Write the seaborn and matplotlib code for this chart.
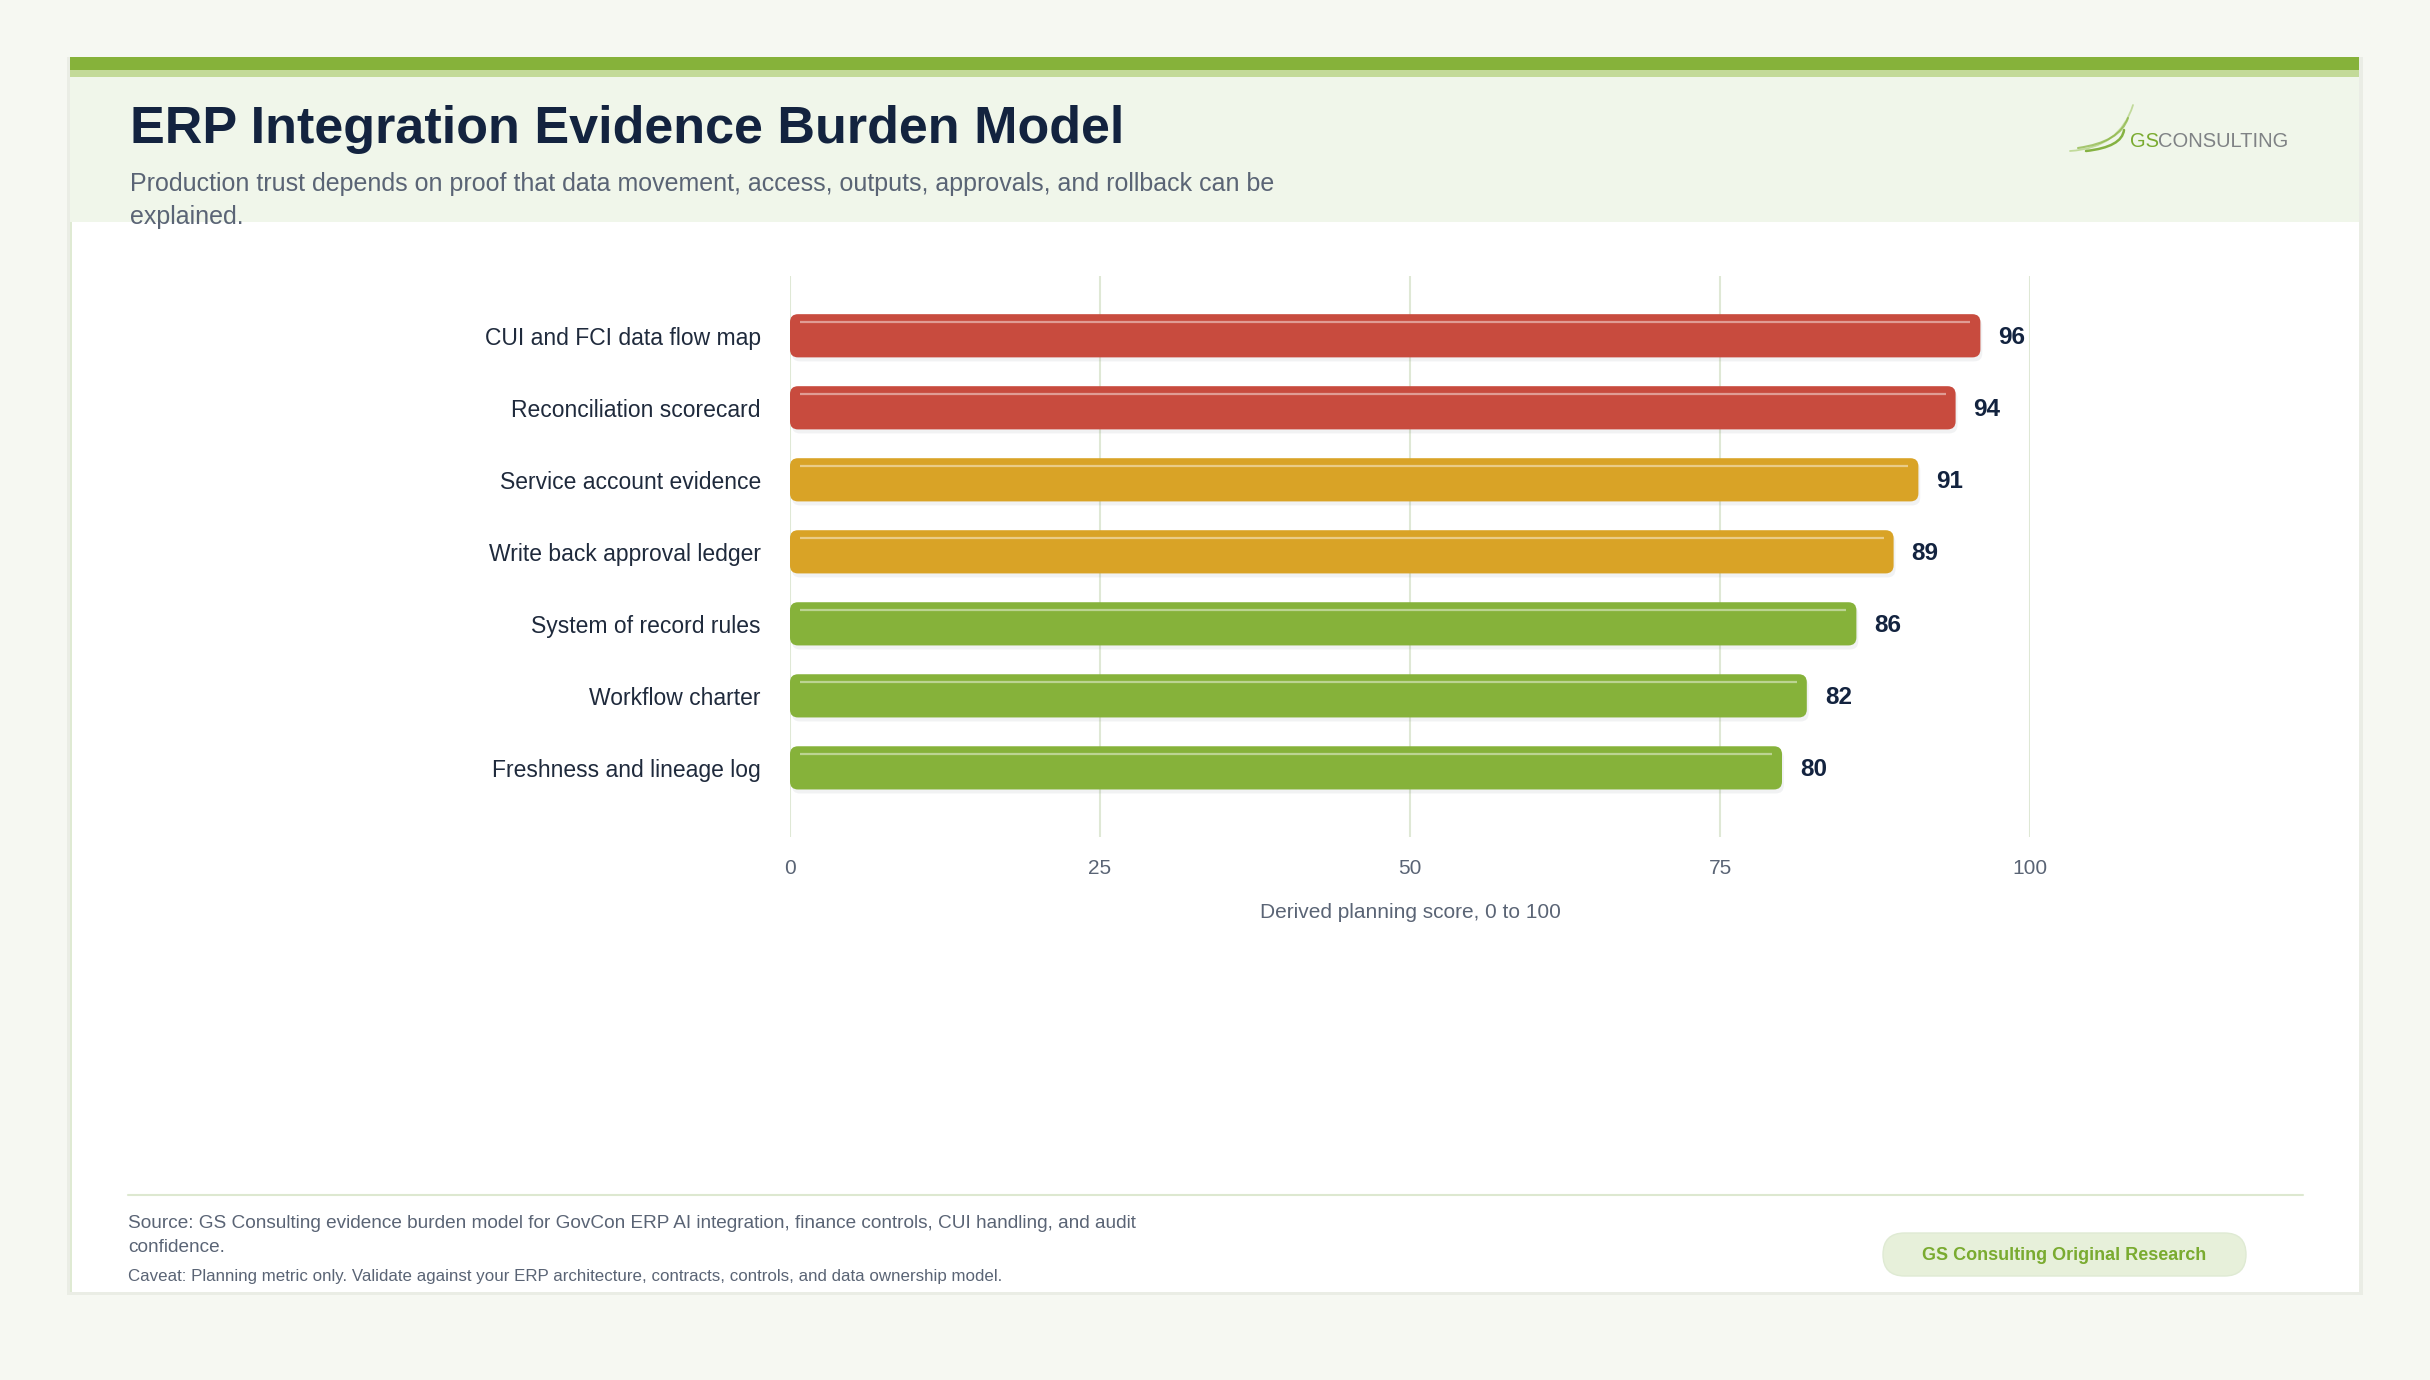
import matplotlib
matplotlib.use("Agg")
import matplotlib.pyplot as plt
import seaborn as sns
from matplotlib.patches import Rectangle, FancyBboxPatch, PathPatch
from matplotlib.path import Path

# ---------------- data ----------------
categories = [
    "CUI and FCI data flow map",
    "Reconciliation scorecard",
    "Service account evidence",
    "Write back approval ledger",
    "System of record rules",
    "Workflow charter",
    "Freshness and lineage log",
]
scores = [96, 94, 91, 89, 86, 82, 80]
tiers = ["High", "High", "Elevated", "Elevated", "Core", "Core", "Core"]
tier_colors = {"High": "#c84b3e", "Elevated": "#d9a326", "Core": "#86b23a"}
x_ticks = [0, 25, 50, 75, 100]

title = "ERP Integration Evidence Burden Model"
subtitle = ("Production trust depends on proof that data movement, access, outputs, approvals, and rollback can be\n"
            "explained.")
x_label = "Derived planning score, 0 to 100"
source_text = ("Source: GS Consulting evidence burden model for GovCon ERP AI integration, finance controls, CUI handling, and audit\n"
               "confidence.")
caveat_text = "Caveat: Planning metric only. Validate against your ERP architecture, contracts, controls, and data ownership model."
badge_text = "GS Consulting Original Research"

# ---------------- setup ----------------
sns.set_theme(style="white")
plt.rcParams["font.family"] = ["Liberation Sans", "DejaVu Sans"]

W, H = 2430, 1380
fig = plt.figure(figsize=(W / 100, H / 100), dpi=100)
fig.patch.set_facecolor("#f6f8f2")

# background / decoration axes in pixel coordinates (y downwards)
bg = fig.add_axes([0, 0, 1, 1])
bg.set_xlim(0, W)
bg.set_ylim(H, 0)
bg.axis("off")
bg.set_zorder(0)


def rect_px(x0, y0, x1, y1, **kw):
    bg.add_patch(Rectangle((x0, y0), x1 - x0, y1 - y0, **kw))


# card shadow + card
rect_px(67, 57, 2363, 1295, facecolor="#eaede5", edgecolor="none", zorder=0)
rect_px(70, 59, 2359, 1292, facecolor="white", edgecolor="none", zorder=0.1)
rect_px(70, 59, 72, 1292, facecolor="#dfead3", edgecolor="none", zorder=0.2)
# header
rect_px(70, 77, 2359, 222, facecolor="#f0f6ea", edgecolor="none", zorder=0.3)
rect_px(70, 57, 2359, 70, facecolor="#86b23a", edgecolor="none", zorder=0.4)
rect_px(70, 70, 2359, 77, facecolor="#c3da98", edgecolor="none", zorder=0.4)

bg.text(130, 143, title, fontsize=37.5, fontweight="bold", color="#13233f",
        ha="left", va="baseline", zorder=5)
bg.text(130, 172, subtitle, fontsize=18, color="#5a6475",
        ha="left", va="top", linespacing=1.45, zorder=5)


# logo
def swoosh(p0, c, p1, lw, color, alpha):
    path = Path([p0, c, p1], [Path.MOVETO, Path.CURVE3, Path.CURVE3])
    bg.add_patch(PathPatch(path, facecolor="none", edgecolor=color, lw=lw, alpha=alpha,
                           capstyle="round", zorder=5))


swoosh((2070, 151), (2120, 148), (2133, 105), 1.3, "#9cc45a", 0.55)
swoosh((2078, 148), (2120, 142), (2128, 118), 1.5, "#86b23a", 0.7)
swoosh((2086, 151), (2122, 147), (2124, 130), 1.8, "#7aab30", 0.9)
t1 = bg.text(2130, 147, "GS", fontsize=14.5, color="#7aab30", ha="left",
             va="baseline", zorder=5)
fig.canvas.draw()
bb = t1.get_window_extent()
t2 = bg.text(bb.x1, 147, "CONSULTING", fontsize=14.5, color="#7f8285", ha="left",
             va="baseline", zorder=5)
t2.set_x(bg.transData.inverted().transform((bb.x1, 0))[0] - 1)

# ---------------- chart ----------------
ax_left, ax_right, ax_top, ax_bottom = 790, 2030, 276, 837
ax = fig.add_axes([ax_left / W, 1 - ax_bottom / H, (ax_right - ax_left) / W, (ax_bottom - ax_top) / H])
ax.set_facecolor("none")
ax.set_zorder(2)

sns.barplot(x=scores, y=categories, hue=tiers, palette=tier_colors, orient="h",
            width=0.6, dodge=False, legend=False, saturation=1, ax=ax)

ax.set_xlim(0, 100)
ax.set_ylim(6.96, -0.83)

px_per_x = (ax_right - ax_left) / 100.0
px_per_y = (ax_bottom - ax_top) / (6.96 + 0.83)
rad_px = 8
rx = rad_px / px_per_x
aspect = (rad_px / px_per_y) / rx

bars = [p for p in ax.patches if isinstance(p, Rectangle) and p.get_width() > 0]
for p in bars:
    x0, y0, w, h = p.get_x(), p.get_y(), p.get_width(), p.get_height()
    col = p.get_facecolor()
    p.set_visible(False)
    sh = FancyBboxPatch((x0 + 0.15, y0 + 4 / px_per_y), w, h,
                        boxstyle=f"round,pad=0,rounding_size={rx}", mutation_aspect=aspect,
                        facecolor="#1b2a40", alpha=0.06, edgecolor="none", zorder=2)
    ax.add_patch(sh)
    fb = FancyBboxPatch((x0, y0), w, h,
                        boxstyle=f"round,pad=0,rounding_size={rx}", mutation_aspect=aspect,
                        facecolor=col, edgecolor="none", zorder=3)
    ax.add_patch(fb)
    hy = y0 + 8 / px_per_y
    ax.plot([x0 + 10 / px_per_x, x0 + w - 10 / px_per_x], [hy, hy], color="white",
            alpha=0.45, lw=1.6, solid_capstyle="butt", zorder=4)
    ax.text(x0 + w + 18 / px_per_x, y0 + h / 2 + 2 / px_per_y, f"{int(round(w))}", ha="left",
            va="center", fontsize=17.5, fontweight="bold", color="#13233f", zorder=5)

ax.set_xticks(x_ticks)
ax.set_xticklabels([str(t) for t in x_ticks])
ax.xaxis.grid(True, color="#dfe8d5", lw=1.5)
ax.yaxis.grid(False)
ax.set_axisbelow(True)
for s in ax.spines.values():
    s.set_visible(False)
ax.tick_params(axis="x", length=0, pad=16, labelsize=15, labelcolor="#5a6475")
ax.tick_params(axis="y", length=0, pad=21, labelsize=16.5, labelcolor="#1f2a3c")
ax.set_xlabel(x_label, fontsize=15, color="#5a6475", labelpad=18)
ax.set_ylabel("")

# ---------------- footer ----------------
bg.plot([128, 2303], [1195, 1195], color="#dde8d0", lw=1.5, zorder=5)
bg.text(128, 1215, source_text, fontsize=13.7, color="#5a6475", ha="left",
        va="top", linespacing=1.55, zorder=5)
bg.text(128, 1276, caveat_text, fontsize=12.2, color="#5a6475", ha="left",
        va="center", zorder=5)

badge = FancyBboxPatch((1883, 1233), 2246 - 1883, 1276 - 1233,
                       boxstyle="round,pad=0,rounding_size=21.5",
                       facecolor="#e7f0da", edgecolor="#dfead3", lw=1, zorder=5)
bg.add_patch(badge)
bg.text(2064, 1255, badge_text, fontsize=13, fontweight="bold", color="#7aab30",
        ha="center", va="center", zorder=6)

fig.savefig("out.png", dpi=100, facecolor=fig.get_facecolor())
